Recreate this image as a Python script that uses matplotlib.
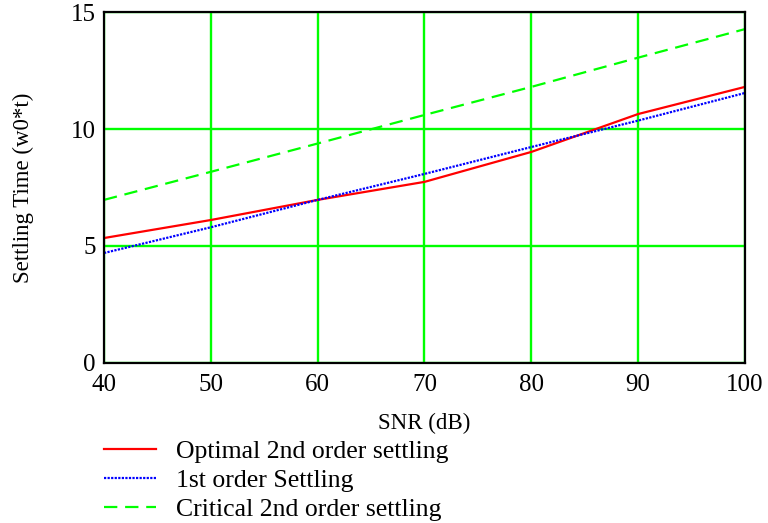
import matplotlib.pyplot as plt

plt.rcParams['font.family'] = ['Liberation Serif', 'DejaVu Serif']

snr = [40, 50, 60, 70, 80, 90, 100]
optimal_2nd = [5.34, 6.11, 6.97, 7.74, 9.02, 10.64, 11.80]
first_order = [4.70, 5.80, 6.97, 8.08, 9.23, 10.36, 11.54]
critical_2nd = [6.97, 8.17, 9.38, 10.60, 11.80, 13.05, 14.27]

fig = plt.figure(figsize=(7.68, 5.23), dpi=100)
ax = fig.add_axes([0.1354, 0.306, 0.8346, 0.671])

ax.plot(snr, optimal_2nd, color="red", lw=1.6, label="Optimal 2nd order settling")
ax.plot(snr, first_order, color="blue", lw=1.6, ls=(0, (1, 0.6)), label="1st order Settling")
ax.plot(snr, critical_2nd, color="#00ff00", lw=1.6, ls=(0, (6, 3.5)), label="Critical 2nd order settling")

ax.set_xlim(40, 100)
ax.set_ylim(0, 15)
ax.set_xticks([40, 50, 60, 70, 80, 90, 100])
ax.set_yticks([0, 5, 10, 15])
ax.grid(True, color="#00ff00", lw=1.7)
ax.set_axisbelow(True)
ax.tick_params(length=0, labelsize=18)
ax.tick_params(axis="x", pad=8)
ax.tick_params(axis="y", pad=6)
for s in ax.spines.values():
    s.set_linewidth(1.6)
    s.set_color("black")

ax.set_xlabel("SNR (dB)", fontsize=16.5, va="center")
ax.set_ylabel("Settling Time (w0*t)", fontsize=16.5, va="center")
ax.xaxis.set_label_coords(0.5, -0.172)
ax.yaxis.set_label_coords(-0.125, 0.5)

fig.legend(loc="upper left", bbox_to_anchor=(0.136, 0.158), frameon=False,
           fontsize=18.5, handlelength=2.0, handletextpad=0.8, labelspacing=0.22,
           borderaxespad=0, borderpad=0)

fig.savefig("out.png", dpi=100)
